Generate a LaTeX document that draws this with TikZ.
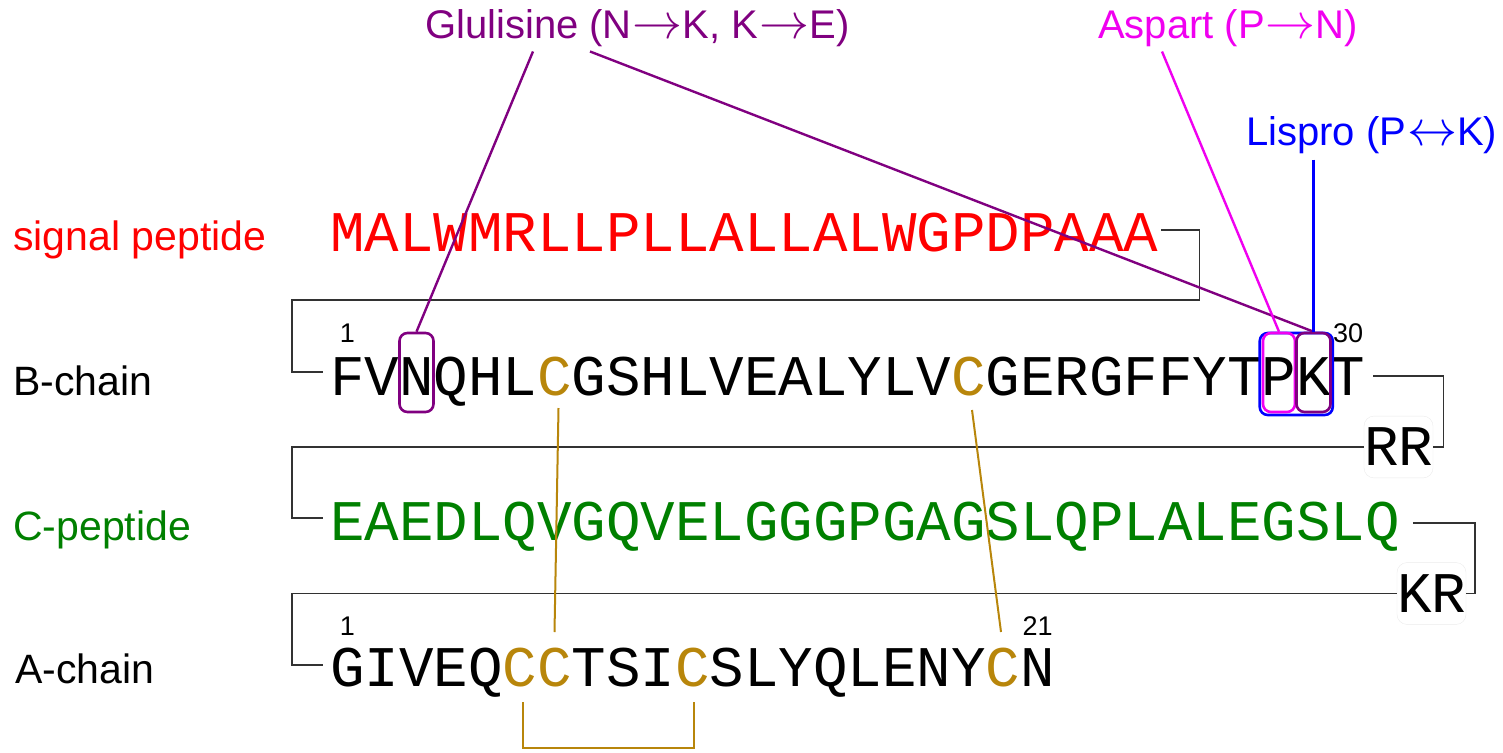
\documentclass[tikz,border=0pt]{standalone}
\usepackage{fontspec}
\setmainfont{Liberation Sans}
\newfontfamily\seqfont{Liberation Mono}
\usetikzlibrary{calc}
\definecolor{cysgold}{RGB}{184,134,11}
\definecolor{sigred}{RGB}{255,0,0}
\definecolor{cpgreen}{RGB}{0,128,0}
\definecolor{glupurple}{RGB}{128,0,128}
\definecolor{aspmagenta}{RGB}{240,0,240}
\definecolor{lisblue}{RGB}{0,0,255}
\definecolor{linkgray}{RGB}{50,50,50}
\newcommand\cys{\textcolor{cysgold}{C}}
% long thin arrows for the substitution labels
\newcommand\subst{\kern1pt\smash{\resizebox{50pt}{!}{$\rightarrow$}}}
\newcommand\swaparrow{\kern1pt\smash{\resizebox{50pt}{!}{$\leftrightarrow$}}}
\begin{document}
\begin{tikzpicture}[x=1pt,y=-1pt,
  res/.style={font=\seqfont\fontsize{57.5}{60}\selectfont, inner sep=0pt, anchor=base},
  lab/.style={font=\fontsize{41}{48}\selectfont, inner sep=0pt, anchor=base west},
  toplab/.style={font=\fontsize{40}{46}\selectfont, inner sep=0pt, anchor=base west},
  num/.style={font=\fontsize{27}{30}\selectfont, inner sep=0pt, anchor=base},
  link/.style={draw=linkgray, line width=1.5pt},
  hl/.style={rounded corners=8pt, line width=2.6pt, inner sep=0pt},
  hlline/.style={line width=2.4pt},
  cyslink/.style={draw=cysgold, line width=2pt},
  tag/.style={font=\seqfont\fontsize{57.5}{60}\selectfont, fill=white, draw=black!8,
    rounded corners=10pt, inner xsep=0pt, inner ysep=12pt}
]
\useasboundingbox (0,0) rectangle (1503,752);

% row labels
\node[lab, text=sigred] (lsig) at (13,250) {signal peptide};
\node[lab] (lB) at (13,395) {B-chain};
\node[lab, text=cpgreen] (lC) at (13,540) {C-peptide};
\node[lab] (lA) at (15,683) {A-chain};

% residues, one node per letter on a fixed pitch
\foreach \c [count=\i] in {M,A,L,W,M,R,L,L,P,L,L,A,L,L,A,L,W,G,P,D,P,A,A,A}
  \node[res, text=sigred] (s\i) at ({347.5+34.5*(\i-1)},251) {\c};
\foreach \c [count=\i] in {F,V,N,Q,H,L,\cys,G,S,H,L,V,E,A,L,Y,L,V,\cys,G,E,R,G,F,F,Y,T,P,K,T}
  \node[res] (b\i) at ({347.5+34.5*(\i-1)},395) {\c};
\foreach \c [count=\i] in {E,A,E,D,L,Q,V,G,Q,V,E,L,G,G,G,P,G,A,G,S,L,Q,P,L,A,L,E,G,S,L,Q}
  \node[res, text=cpgreen] (c\i) at ({347.5+34.5*(\i-1)},540) {\c};
\foreach \c [count=\i] in {G,I,V,E,Q,\cys,\cys,T,S,I,\cys,S,L,Y,Q,L,E,N,Y,\cys,N}
  \node[res] (a\i) at ({347.5+34.5*(\i-1)},686) {\c};

% residue numbers
\node[num] (nB1) at ($(b1.base)+(0,-53)$) {1};
\node[num] (nB30) at ($(b30.base)+(0,-53)$) {30};
\node[num] (nA1) at ($(a1.base)+(0,-51)$) {1};
\node[num] (nA21) at ($(a21.base)+(0,-51)$) {21};

% cleaved dipeptides
\node[tag] (RR) at (1398.5,447) {RR};
\node[tag] (KR) at (1431.5,593.5) {KR};

% chain continuation links
\draw[link] ([xshift=3pt,yshift=21pt]s24.base east) -- ++(38,0) |- (292,300)
  |- ([xshift=-7pt,yshift=23pt]b1.base west);
\draw[link] ([xshift=8pt,yshift=19pt]b30.base east) -- ++(70,0) |- (RR.east);
\draw[link] (RR.west) -- (292,447) |- ([xshift=-7pt,yshift=22pt]c1.base west);
\draw[link] ([xshift=13pt,yshift=17pt]c31.base east) -- ++(62,0) |- (KR.east);
\draw[link] (KR.west) -- (292,593.5) |- ([xshift=-7pt,yshift=21pt]a1.base west);

% disulfide bridges
\draw[cyslink] ($(b7.base)+(4,13)$) -- ($(a7.base)+(0,-54)$);
\draw[cyslink] ($(b19.base)+(3.5,15)$) -- ($(a20.base)+(-2,-54)$);
\draw[cyslink] ($(a6.base)+(3,16)$) -- ++(0,46) -| ($(a11.base)+(1.5,16)$);

% analogue labels
\node[toplab, text=glupurple] (glu) at (425,39) {Glulisine (N\subst K, K\subst E)};
\node[toplab, text=aspmagenta] (asp) at (1098,39) {Aspart (P\subst N)};
\node[toplab, text=lisblue] (lis) at (1246,145) {Lispro (P\swaparrow K)};

% highlighted residues
\node[hl, draw=lisblue, minimum width=73pt, minimum height=82pt]
  (boxB) at ($(b28.base)!0.5!(b29.base)+(0,-21)$) {};
\node[hl, draw=aspmagenta, minimum width=32pt, minimum height=79pt]
  (boxP) at ($(b28.base)+(0,-22.5)$) {};
\node[hl, draw=glupurple, minimum width=34pt, minimum height=79pt]
  (boxK) at ($(b29.base)+(0,-22.5)$) {};
\node[hl, draw=glupurple, minimum width=34pt, minimum height=79pt]
  (boxN) at ($(b3.base)+(0,-22.5)$) {};

% analogue pointers
\draw[hlline, glupurple] ([xshift=108pt,yshift=-4pt]glu.south west) -- (boxN.north);
\draw[hlline, glupurple] ([xshift=165pt,yshift=-4pt]glu.south west) -- (boxK.north);
\draw[hlline, aspmagenta] ([xshift=64pt,yshift=-4pt]asp.south west) -- (boxP.north);
\draw[hlline, lisblue] (boxK.north |- lis.south) ++(0,6) -- (boxK.north |- boxB.north);
\end{tikzpicture}
\end{document}
